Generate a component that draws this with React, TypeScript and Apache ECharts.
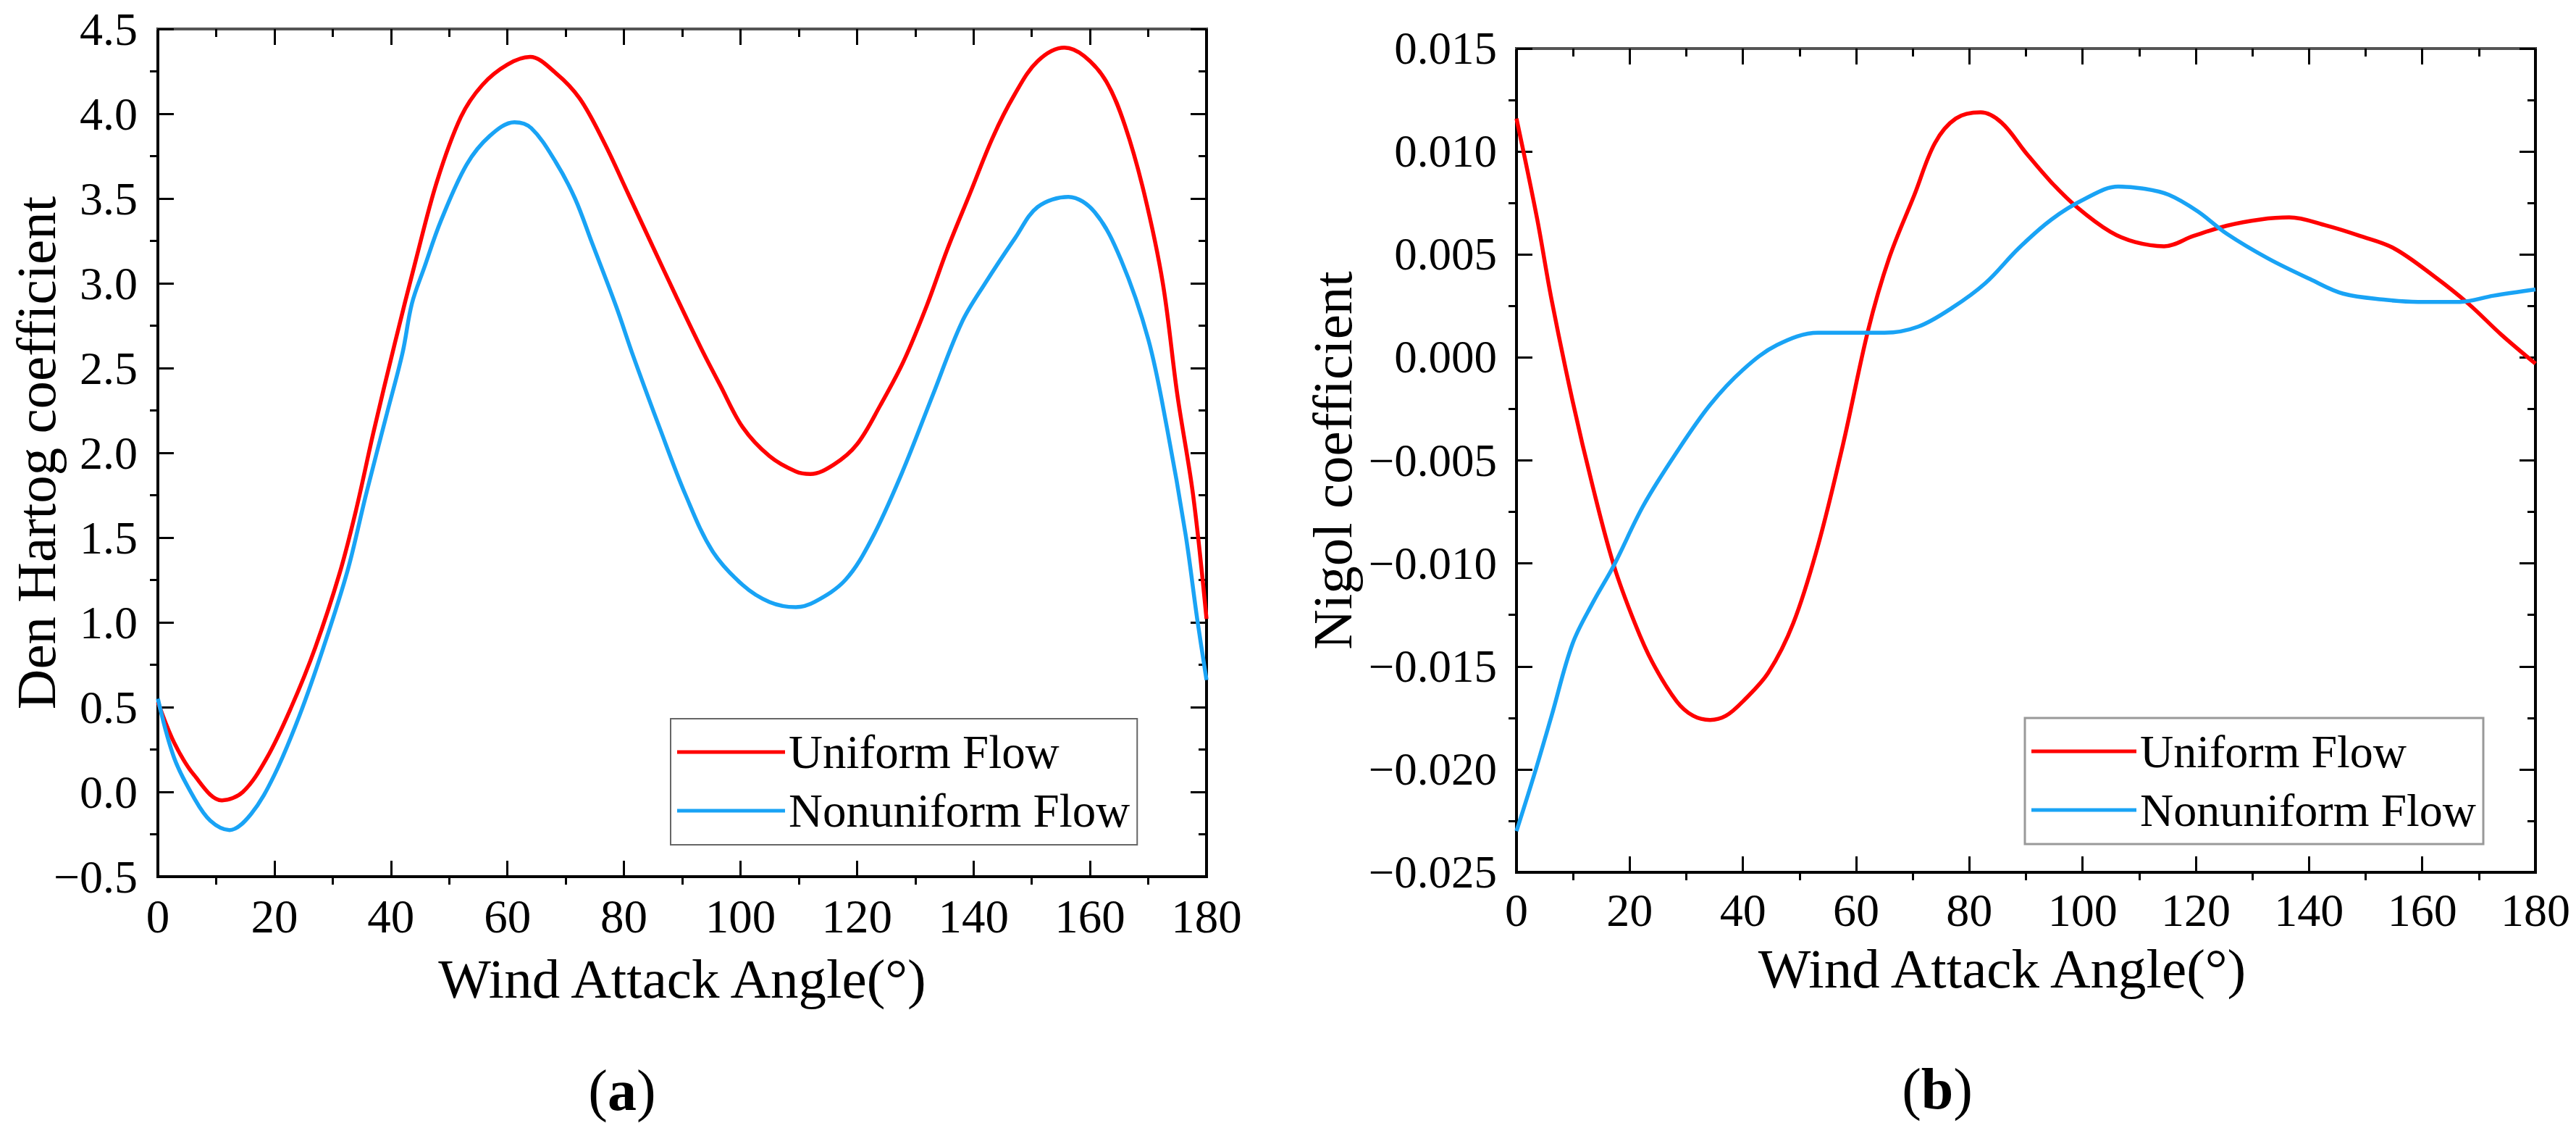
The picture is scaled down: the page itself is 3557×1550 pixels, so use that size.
import { useEffect, useRef } from "react";
import * as echarts from "echarts";

// (a) Den Hartog coefficient
const denHartogUniformAngles = [
  0, 2.8, 6.2, 11, 14.6, 18.7, 22.9, 27, 31.2, 34, 37, 40.7, 44.3, 47.9, 52,
  55.7, 60, 63.9, 68.3, 72.4, 76.6, 80.7, 84.9, 89, 93.2, 96.5, 100.4, 105,
  109.5, 112, 116, 120, 124, 128, 132, 135.5, 139.4, 143.3, 147, 151, 155.6,
  159, 162.8, 166, 169.3, 172.5, 175, 177.7, 180,
];
const denHartogUniform = [
  0.53, 0.29, 0.1, -0.05, 0.0, 0.2, 0.5, 0.85, 1.29, 1.66, 2.12, 2.65, 3.14,
  3.6, 3.98, 4.17, 4.29, 4.335, 4.24, 4.09, 3.83, 3.53, 3.22, 2.92, 2.62, 2.4,
  2.15, 1.98, 1.89, 1.875, 1.93, 2.05, 2.28, 2.54, 2.87, 3.2, 3.53, 3.86, 4.11,
  4.31, 4.39, 4.34, 4.19, 3.93, 3.53, 3.0, 2.34, 1.75, 1.02,
];
const denHartogNonuniformAngles = [
  0, 2.8, 6.2, 9, 12.3, 16, 20, 24.3, 28.4, 32.6, 35.7, 39.3, 42, 43.6, 45.7,
  48.6, 53, 57, 61.2, 64.1, 68.3, 71.6, 74.5, 78.7, 81.6, 86.1, 90.6, 95.2,
  100.4, 105, 109.5, 112.7, 118, 122.5, 127.7, 133, 138, 142, 147.2, 151, 156.3,
  160.8, 165.3, 170, 173.2, 176.4, 178.4, 180,
];
const denHartogNonuniform = [
  0.55, 0.2, -0.035, -0.17, -0.225, -0.13, 0.1, 0.45, 0.85, 1.31, 1.75, 2.23,
  2.59, 2.88, 3.09, 3.37, 3.7, 3.87, 3.95, 3.915, 3.715, 3.5, 3.24, 2.86, 2.57,
  2.15, 1.75, 1.42, 1.22, 1.12, 1.09, 1.12, 1.25, 1.49, 1.88, 2.34, 2.77, 3.0,
  3.27, 3.45, 3.51, 3.42, 3.14, 2.67, 2.15, 1.52, 1.02, 0.66,
];

// (b) Nigol coefficient
const nigolUniformAngles = [
  0, 3.6, 6.2, 9.9, 13.5, 17.2, 20.9, 24, 28.3, 31.2, 34.2, 37, 40, 44.5, 48.9,
  53.3, 57.7, 62.1, 65.8, 70.3, 73.9, 77.6, 82, 85.7, 90.1, 94.5, 99, 104.9,
  109.3, 114.4, 119.6, 125.5, 131.4, 136.5, 143.1, 149, 155, 162.3, 168.2, 174,
  180,
];
const nigolUniform = [
  0.0116, 0.0068, 0.0028, -0.0021, -0.0063, -0.0101, -0.0129, -0.0148, -0.0167,
  -0.0174, -0.0176, -0.0174, -0.0167, -0.0153, -0.0129, -0.0091, -0.0042,
  0.0013, 0.0048, 0.0079, 0.0104, 0.0116, 0.0119, 0.0114, 0.0099, 0.0085,
  0.0073, 0.0061, 0.0056, 0.0054, 0.0059, 0.0064, 0.0067, 0.0068, 0.0064,
  0.0059, 0.0053, 0.0039, 0.0026, 0.0011, -0.0003,
];
const nigolNonuniformAngles = [
  0, 3.2, 6.2, 9.9, 13.5, 17.2, 22.4, 28.3, 34.2, 40, 46, 53.3, 59.2, 65, 71,
  76.9, 82.8, 88.7, 94.5, 100.4, 106.3, 110.7, 115.2, 120.3, 125.5, 132.8,
  140.2, 146, 153.5, 159.3, 166.7, 172.6, 180,
];
const nigolNonuniform = [
  -0.023, -0.0202, -0.0174, -0.0139, -0.0119, -0.0101, -0.0072, -0.0046,
  -0.0023, -0.0006, 0.0006, 0.0012, 0.0012, 0.0012, 0.0015, 0.0024, 0.0036,
  0.0053, 0.0067, 0.0077, 0.0083, 0.0082, 0.0079, 0.0071, 0.006, 0.0048,
  0.0038, 0.0031, 0.0028, 0.0027, 0.0027, 0.003, 0.0033,
];

const seriesNames = ["Uniform Flow", "Nonuniform Flow"];
const seriesColors = ["#ff0000", "#19a3f5"];
const angleRange = [0, 180, 20];
const denHartogRange = [-0.5, 4.5, 0.5];
const nigolRange = [-0.025, 0.015, 0.005];
const captions = ["a", "b"];

const FONT = "Liberation Serif";

const pairs = (xs: number[], ys: number[]) => xs.map((x, i) => [x, ys[i]]);
const withMinus = (s: string) => s.replace("-", "\u2212");

type AxisOpts = {
  grid: number;
  dir: "x" | "y";
  range: number[];
  digits: number;
  labelSize: number;
  labelMargin: number;
  name: string;
  nameGap: number;
  namePadding?: number[];
};

// main axis with labels and inward ticks, a twin that only carries the
// outward minor ticks, and the opposite frame side with inward ticks
function axisSet(o: AxisOpts) {
  const [min, max, interval] = o.range;
  const main = o.dir === "x" ? "bottom" : "left";
  const opposite = o.dir === "x" ? "top" : "right";
  return [
    {
      type: "value",
      gridIndex: o.grid,
      position: main,
      min,
      max,
      interval,
      axisLine: { show: true, onZero: false, lineStyle: { color: "#000", width: 4 } },
      axisTick: { show: true, inside: true, length: 22, lineStyle: { color: "#000", width: 3 } },
      minorTick: { show: false },
      splitLine: { show: false },
      axisLabel: {
        show: true,
        margin: o.labelMargin,
        fontSize: o.labelSize,
        fontFamily: FONT,
        color: "#000",
        formatter: (v: number) => withMinus(v.toFixed(o.digits)),
      },
      name: o.name,
      nameLocation: "middle",
      nameGap: o.nameGap,
      nameMoveOverlap: false,
      nameTextStyle: {
        fontSize: 77,
        fontFamily: FONT,
        color: "#000",
        padding: o.namePadding ?? 0,
      },
    },
    {
      type: "value",
      gridIndex: o.grid,
      position: main,
      min,
      max,
      interval,
      axisLine: { show: false, onZero: false },
      axisTick: { show: false, inside: false },
      minorTick: { show: true, splitNumber: 2, length: 11, lineStyle: { color: "#000", width: 3 } },
      splitLine: { show: false },
      axisLabel: { show: false },
    },
    {
      type: "value",
      gridIndex: o.grid,
      position: opposite,
      min,
      max,
      interval,
      axisLine: {
        show: true,
        onZero: false,
        lineStyle: { color: o.dir === "x" ? "#555" : "#000", width: 4 },
      },
      axisTick: { show: true, inside: true, length: 22, lineStyle: { color: "#000", width: 3 } },
      minorTick: { show: true, splitNumber: 2, length: 11, lineStyle: { color: "#000", width: 3 } },
      splitLine: { show: false },
      axisLabel: { show: false },
    },
  ];
}

function lineSeries(name: string, color: string, data: number[][], axisIndex: number) {
  return {
    name,
    type: "line",
    xAxisIndex: axisIndex,
    yAxisIndex: axisIndex,
    data,
    symbol: "none",
    smooth: 0.35,
    lineStyle: { color, width: 5.5 },
    itemStyle: { color },
  };
}

function legendAt(left: number, top: number, itemWidth: number, fontSize: number, borderColor: string, borderWidth: number) {
  return {
    orient: "vertical",
    left,
    top,
    data: seriesNames,
    icon: "rect",
    itemWidth,
    itemHeight: 5,
    itemGap: 11,
    itemTextGap: 16,
    padding: [11, 10, 12, 9],
    borderColor,
    borderWidth,
    borderRadius: 0,
    backgroundColor: "#fff",
    selectedMode: false,
    textStyle: { fontSize, fontFamily: FONT, color: "#000", lineHeight: 70 },
  };
}

function caption(letter: string, x: number, y: number) {
  return {
    type: "text",
    x,
    y,
    style: {
      text: `({b|${letter}})`,
      align: "center",
      verticalAlign: "middle",
      fontSize: 80,
      fontFamily: FONT,
      fill: "#000",
      rich: { b: { fontSize: 80, fontFamily: FONT, fontWeight: "bold", fill: "#000" } },
    },
  };
}

export default function App() {
  const chartRef = useRef<HTMLDivElement>(null);

  useEffect(() => {
    if (!chartRef.current) return;
    document.body.style.margin = "0";
    const chart = echarts.init(chartRef.current, undefined, { renderer: "svg" });

    const xAxes = [
      ...axisSet({
        grid: 0, dir: "x", range: angleRange, digits: 0, labelSize: 65, labelMargin: 22,
        name: "Wind Attack Angle(°)", nameGap: 102,
      }),
      ...axisSet({
        grid: 1, dir: "x", range: angleRange, digits: 0, labelSize: 64, labelMargin: 20,
        name: "Wind Attack Angle(°)", nameGap: 94, namePadding: [0, 66, 0, 0],
      }),
    ];
    const yAxes = [
      ...axisSet({
        grid: 0, dir: "y", range: denHartogRange, digits: 1, labelSize: 64, labelMargin: 28,
        name: "Den Hartog coefficient", nameGap: 130,
      }),
      ...axisSet({
        grid: 1, dir: "y", range: nigolRange, digits: 3, labelSize: 63, labelMargin: 27,
        name: "Nigol coefficient", nameGap: 216,
      }),
    ];

    chart.setOption({
      animation: false,
      backgroundColor: "#fff",
      textStyle: { fontFamily: FONT },
      grid: [
        { left: 218, top: 40, width: 1448, height: 1170, outerBoundsMode: "none", show: true, borderColor: "#000", borderWidth: 4, backgroundColor: "transparent" },
        { left: 2094, top: 67, width: 1407, height: 1137, outerBoundsMode: "none", show: true, borderColor: "#000", borderWidth: 4, backgroundColor: "transparent" },
      ],
      xAxis: xAxes,
      yAxis: yAxes,
      legend: [
        legendAt(926, 992, 149, 65, "#666", 2),
        legendAt(2796, 991, 145, 64, "#999", 3),
      ],
      series: [
        lineSeries(seriesNames[0], seriesColors[0], pairs(denHartogUniformAngles, denHartogUniform), 0),
        lineSeries(seriesNames[1], seriesColors[1], pairs(denHartogNonuniformAngles, denHartogNonuniform), 0),
        lineSeries(seriesNames[0], seriesColors[0], pairs(nigolUniformAngles, nigolUniform), 3),
        lineSeries(seriesNames[1], seriesColors[1], pairs(nigolNonuniformAngles, nigolNonuniform), 3),
      ],
      graphic: [caption(captions[0], 859, 1505), caption(captions[1], 2675, 1503)],
    });

    return () => {
      chart.dispose();
    };
  }, []);

  return <div ref={chartRef} style={{ width: "3557px", height: "1550px" }} />;
}
